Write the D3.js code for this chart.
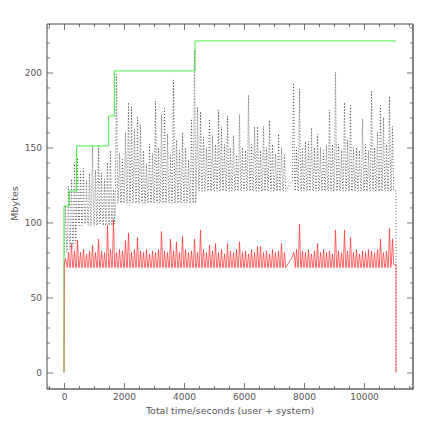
<!DOCTYPE html>
<html><head><meta charset="utf-8">
<script src="https://cdn.jsdelivr.net/npm/d3@7"></script>
<style>html,body{margin:0;padding:0;background:#fff}svg{display:block}</style>
</head><body><svg id="c" width="436" height="436"></svg>
<script>
// ---- data ----
const cycleTimes = [
  50,150,250,350,450,550,650,750,850,950,
  1050,1150,1250,1350,1450,1550,1650,1750,1850,1950,
  2050,2150,2250,2350,2450,2550,2650,2750,2850,2950,
  3050,3150,3250,3350,3450,3550,3650,3750,3850,3950,
  4050,4150,4250,4350,4450,4550,4650,4750,4850,4950,
  5050,5150,5250,5350,5450,5550,5650,5750,5850,5950,
  6050,6150,6250,6350,6450,6550,6650,6750,6850,6950,
  7050,7150,7250,7350,
  7650,7750,7850,7950,
  8050,8150,8250,8350,8450,8550,8650,8750,8850,8950,
  9050,9150,9250,9350,9450,9550,9650,9750,9850,9950,
  10050,10150,10250,10350,10450,10550,10650,10750,10850,10950
];
const blackPeaks = [
  111,124,129,139,143,134,136,128,133,151,
  135,151,133,129,140,148,122,199,146,142,
  160,180,177,162,171,165,148,139,152,146,
  181,150,172,176,159,145,195,155,148,160,
  150,142,169,215,177,174,157,150,169,158,
  152,175,164,152,171,150,158,145,172,150,
  148,185,152,164,164,148,164,150,168,152,
  146,159,150,145,
  193,150,189,150,
  154,154,163,150,159,150,148,152,175,152,
  200,152,148,180,155,178,150,150,148,169,
  152,148,188,150,160,178,170,152,184,164
];
const blackLows = [
  80,82,84,86,99,98,99,100,98,99,
  98,99,100,98,99,98,99,113,113,113,
  113,113,113,113,113,113,113,113,113,113,
  113,113,113,113,113,113,113,113,113,113,
  113,113,113,113,121,121,121,121,121,121,
  121,121,121,121,121,121,121,121,121,121,
  121,121,121,121,121,121,121,121,121,121,
  121,121,121,121,
  128,121,121,121,
  121,121,121,121,121,121,121,121,121,121,
  121,121,121,121,121,121,121,121,121,121,
  121,121,121,121,121,121,121,121,121,121
];
const redPeaks = [
  76,80,86,81,88,80,82,79,81,85,
  80,89,81,80,98,82,102,80,82,81,
  88,93,80,82,90,81,80,82,79,81,
  80,82,94,81,80,89,81,87,80,91,
  82,80,81,89,80,95,82,80,85,81,
  86,80,82,79,86,81,80,82,87,80,
  81,79,82,80,84,84,80,81,79,82,
  80,81,86,80,
  80,82,99,81,
  80,82,79,81,86,80,82,80,81,79,
  95,81,80,95,81,90,80,82,79,81,
  80,82,81,80,82,89,80,81,96,89
];
const redLows = [
  72,70,70,70,70,70,70,70,70,70,
  70,70,70,70,70,70,70,70,70,70,
  70,70,70,70,70,70,70,70,70,70,
  70,70,70,70,70,70,70,70,70,70,
  70,70,70,70,70,70,70,70,70,70,
  70,70,70,70,70,70,70,70,70,70,
  70,70,70,70,70,70,70,70,70,70,
  70,70,70,70,
  77,70,70,70,
  70,70,70,70,70,70,70,70,70,70,
  70,70,70,70,70,70,70,70,70,70,
  70,70,70,70,70,70,70,70,70,72
];
const greenTimes  = [0, 0, 180, 420, 1490, 1677, 4367, 11067];
const greenValues = [0, 111, 121, 151, 171, 201, 221, 221];
const startTime = 0, endTime = 11067;
const blackStartValue = 78, redStartValue = 0, endValue = 0;
const xTickValues = [0, 2000, 4000, 6000, 8000, 10000];
const yTickValues = [0, 50, 100, 150, 200];
const xLabel = "Total time/seconds (user + system)";
const yLabel = "Mbytes";

// ---- layout ----
const L = 47, R = 413, T = 24, B = 389;
const x = d3.scaleLinear().domain([-567, 11633]).range([L, R]);
const y = d3.scaleLinear().domain([-11, 232.3]).range([B, T]);
const svg = d3.select("#c");
const font = "DejaVu Sans, sans-serif";
const axisColor = "#555";

// build series
const half = 40;
function buildSeries(startVal, peaks, lows) {
  const pts = [[startTime, startVal]];
  cycleTimes.forEach((t, i) => {
    pts.push([t - half, lows[i]]);
    pts.push([t, peaks[i]]);
    pts.push([t + half, lows[i]]);
  });
  pts.push([endTime, lows[lows.length - 1]]);
  pts.push([endTime, endValue]);
  return pts;
}
const blackPts = buildSeries(blackStartValue, blackPeaks, blackLows);
const redPts = buildSeries(redStartValue, redPeaks, redLows);
const greenPts = greenTimes.map((t, i) => [t, greenValues[i]]);

svg.append("clipPath").attr("id", "clip").append("rect")
  .attr("x", L).attr("y", T).attr("width", R - L).attr("height", B - T);

const line = d3.line().x(d => x(d[0])).y(d => y(d[1]));
const g = svg.append("g").attr("clip-path", "url(#clip)");

g.append("path").datum(blackPts).attr("d", line)
  .attr("fill", "none").attr("stroke", "#2a2a2a").attr("stroke-width", 0.75)
  .attr("stroke-dasharray", "1,2");
g.append("path").datum(greenPts).attr("d", line.curve(d3.curveStepAfter))
  .attr("fill", "none").attr("stroke", "#44ee44").attr("stroke-width", 1);
line.curve(d3.curveLinear);
g.append("path").datum(redPts).attr("d", line)
  .attr("fill", "none").attr("stroke", "#ff2a2a").attr("stroke-width", 0.7);

// ---- axes (ticks inward on all four sides) ----
const xMinor = d3.range(-500, 11633, 500).filter(v => !xTickValues.includes(v));
const yMinor = d3.range(-10, 232.3, 10).filter(v => !yTickValues.includes(v));

function styleAxis(sel) {
  sel.select(".domain").remove();
  sel.selectAll("line").attr("stroke", axisColor).attr("stroke-width", 0.8);
  sel.selectAll("text").attr("fill", "#555").style("font-family", font).style("font-size", "9px");
}
// bottom
svg.append("g").attr("transform", `translate(0,${B})`)
  .call(d3.axisBottom(x).tickValues(xTickValues).tickSize(-6).tickPadding(5).tickFormat(d3.format("d"))).call(styleAxis);
svg.append("g").attr("transform", `translate(0,${B})`)
  .call(d3.axisBottom(x).tickValues(xMinor).tickSize(-3).tickFormat("")).call(styleAxis);
// top
svg.append("g").attr("transform", `translate(0,${T})`)
  .call(d3.axisTop(x).tickValues(xTickValues).tickSize(-6).tickFormat("")).call(styleAxis);
svg.append("g").attr("transform", `translate(0,${T})`)
  .call(d3.axisTop(x).tickValues(xMinor).tickSize(-3).tickFormat("")).call(styleAxis);
// left
svg.append("g").attr("transform", `translate(${L},0)`)
  .call(d3.axisLeft(y).tickValues(yTickValues).tickSize(-6).tickPadding(5).tickFormat(d3.format("d"))).call(styleAxis);
svg.append("g").attr("transform", `translate(${L},0)`)
  .call(d3.axisLeft(y).tickValues(yMinor).tickSize(-3).tickFormat("")).call(styleAxis);
// right
svg.append("g").attr("transform", `translate(${R},0)`)
  .call(d3.axisRight(y).tickValues(yTickValues).tickSize(-6).tickFormat("")).call(styleAxis);
svg.append("g").attr("transform", `translate(${R},0)`)
  .call(d3.axisRight(y).tickValues(yMinor).tickSize(-3).tickFormat("")).call(styleAxis);

// frame
svg.append("line").attr("x1", L).attr("x2", L).attr("y1", T).attr("y2", B).attr("stroke", "#444").attr("stroke-width", 1);
svg.append("line").attr("x1", L).attr("x2", R).attr("y1", T).attr("y2", T).attr("stroke", "#444").attr("stroke-width", 1);
svg.append("line").attr("x1", R).attr("x2", R).attr("y1", T).attr("y2", B + 0.75).attr("stroke", "#666").attr("stroke-width", 1.6);
svg.append("line").attr("x1", L).attr("x2", R).attr("y1", B).attr("y2", B).attr("stroke", "#666").attr("stroke-width", 1.6);

// titles
svg.append("text").attr("x", (L + R) / 2).attr("y", 414).attr("text-anchor", "middle")
  .attr("fill", "#555").style("font-family", font).style("font-size", "9.5px").text(xLabel);
svg.append("text").attr("transform", `translate(18,${(T + B) / 2 - 3}) rotate(-90)`).attr("text-anchor", "middle")
  .attr("fill", "#555").style("font-family", font).style("font-size", "9.5px").text(yLabel);
</script>
</body></html>
